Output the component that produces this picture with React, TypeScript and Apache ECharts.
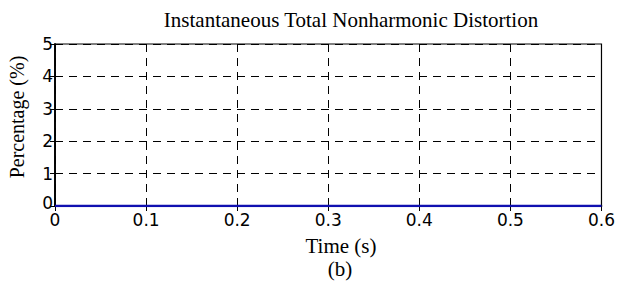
import React, { useEffect, useRef } from "react";
import * as echarts from "echarts";

const timeValues = [0, 0.05, 0.1, 0.15, 0.2, 0.25, 0.3, 0.35, 0.4, 0.45, 0.5, 0.55, 0.6];
const distortionValues = [0, 0, 0, 0, 0, 0, 0, 0, 0, 0, 0, 0, 0];
const titleText = "Instantaneous Total Nonharmonic Distortion";
const xName = "Time (s)";
const yName = "Percentage (%)";
const subLabel = "(b)";

export default function App() {
  const ref = useRef<HTMLDivElement>(null);
  useEffect(() => {
    if (!ref.current) return;
    const chart = echarts.init(ref.current, null, { renderer: "svg" });
    const data = timeValues.map((t, i) => [t, distortionValues[i]]);
    const serif = "Liberation Serif, Times New Roman, serif";
    const sans = "DejaVu Sans, Arial, sans-serif";
    const dash = [8, 6];
    chart.setOption({
      animation: false,
      backgroundColor: "#fff",
      grid: { left: 55, right: 15, top: 44, bottom: 75, show: true, borderColor: "#000", borderWidth: 1.2 },
      xAxis: [
        {
          type: "value",
          min: 0,
          max: 0.6,
          interval: 0.1,
          axisLine: { show: true, lineStyle: { color: "#000", width: 1.5 } },
          axisTick: { show: true, inside: true, length: 5, lineStyle: { color: "#000" } },
          axisLabel: {
            color: "#000",
            fontFamily: sans,
            fontSize: 17,
            margin: 5,
            formatter: (v: number) => (v === 0 ? "0" : v.toFixed(1)),
          },
          splitLine: { show: true, lineStyle: { color: "#000", type: dash, width: 1 } },
        },
        {
          type: "value",
          position: "top",
          min: 0,
          max: 0.6,
          interval: 0.1,
          axisLine: { show: true, lineStyle: { color: "#000", width: 1.5 } },
          axisTick: { show: true, inside: true, length: 5, lineStyle: { color: "#000" } },
          axisLabel: { show: false },
          splitLine: { show: false },
        },
      ],
      yAxis: [
        {
          type: "value",
          min: 0,
          max: 5,
          interval: 1,
          axisLine: { show: true, lineStyle: { color: "#000", width: 1.5 } },
          axisTick: { show: true, inside: true, length: 5, lineStyle: { color: "#000" } },
          axisLabel: {
            color: "#000",
            fontFamily: sans,
            fontSize: 17,
            margin: 2,
            formatter: (v: number) => (v === 0 ? "{z|0}" : String(v)),
            rich: { z: { fontFamily: sans, fontSize: 17, color: "#000", padding: [0, 0, 7, 0] } },
          },
          splitLine: { show: true, lineStyle: { color: "#000", type: dash, width: 1 } },
        },
        {
          type: "value",
          position: "right",
          min: 0,
          max: 5,
          interval: 1,
          axisLine: { show: true, lineStyle: { color: "#000", width: 1.5 } },
          axisTick: { show: true, inside: true, length: 5, lineStyle: { color: "#000" } },
          axisLabel: { show: false },
          splitLine: { show: false },
        },
      ],
      graphic: [
        {
          type: "text",
          x: 351,
          y: 20,
          style: { text: titleText, fontFamily: serif, fontSize: 21, fill: "#000", align: "center", verticalAlign: "middle" },
        },
        {
          type: "text",
          x: 341,
          y: 246,
          style: { text: xName, fontFamily: serif, fontSize: 21, fill: "#000", align: "center", verticalAlign: "middle" },
        },
        {
          type: "text",
          x: 340,
          y: 269,
          style: { text: subLabel, fontFamily: serif, fontSize: 21, fill: "#000", align: "center", verticalAlign: "middle" },
        },
        {
          type: "text",
          x: 17,
          y: 117,
          rotation: Math.PI / 2,
          style: { text: yName, fontFamily: serif, fontSize: 20, fill: "#000", align: "center", verticalAlign: "middle" },
        },
      ],
      series: [
        {
          type: "line",
          data,
          showSymbol: false,
          lineStyle: { color: "#1010b0", width: 2.5 },
          xAxisIndex: 0,
          yAxisIndex: 0,
          z: 5,
        },
      ],
    });
    return () => chart.dispose();
  }, []);
  return <div ref={ref} style={{ position: "fixed", left: 0, top: 0, width: 618, height: 281 }} />;
}
